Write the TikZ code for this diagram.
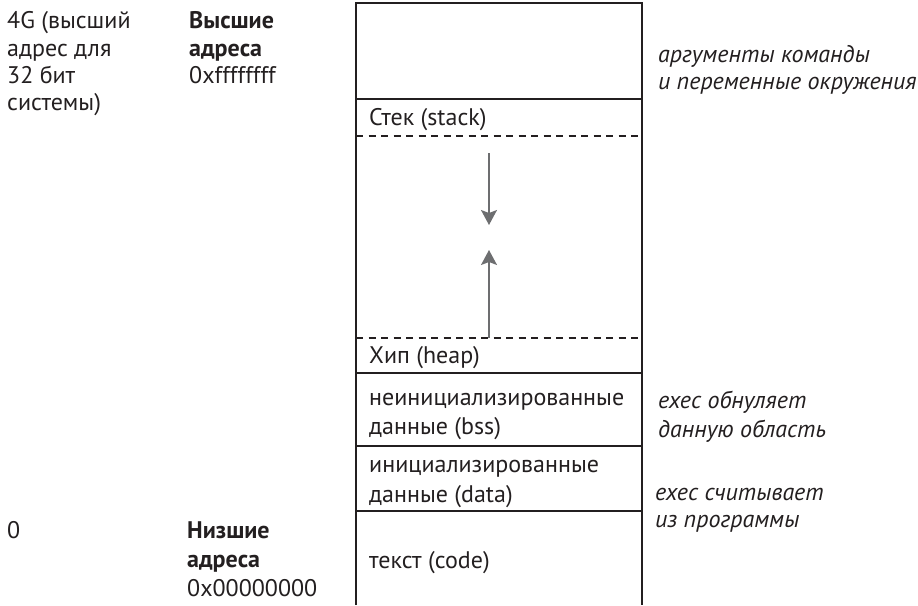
\documentclass[tikz,border=0pt]{standalone}
\usepackage{fontspec}
\setmainfont{PT Sans}
\usetikzlibrary{arrows.meta}
\definecolor{ink}{HTML}{231F20}
\definecolor{arrowgray}{HTML}{6D6E70}
\tikzset{
  lbl/.style={anchor=base west, inner sep=0pt, text=ink, font=\fontsize{24}{28}\selectfont},
  lblb/.style={lbl, font=\fontsize{24}{28}\selectfont\bfseries},
  lbli/.style={lbl, font=\fontsize{24}{28}\selectfont\itshape},
  boxline/.style={draw=ink, line width=1.6pt},
  sepline/.style={draw=ink, line width=1.3pt},
  dashline/.style={draw=ink, line width=1.3pt, dash pattern=on 7pt off 5.5pt},
  growarrow/.style={draw=arrowgray, line width=1.5pt, -{Stealth[length=15pt,width=16pt,inset=3pt]}}
}
\begin{document}
\begin{tikzpicture}[x=1pt,y=-1pt]
\useasboundingbox (0,0) rectangle (918,605);
% box outline
\coordinate (tl) at (356,3);
\coordinate (tr) at (642,3);
\coordinate (bl) at (356,605);
\coordinate (br) at (642,605);
\draw[boxline] (bl) -- (tl) -- (tr) -- (br);
% separators
\coordinate (s1l) at (356,99);  \coordinate (s1r) at (642,99);
\coordinate (d1l) at (356,136); \coordinate (d1r) at (642,136);
\coordinate (d2l) at (356,338); \coordinate (d2r) at (642,338);
\coordinate (s2l) at (356,373); \coordinate (s2r) at (642,373);
\coordinate (s3l) at (356,446); \coordinate (s3r) at (642,446);
\coordinate (s4l) at (356,511); \coordinate (s4r) at (642,511);
\draw[sepline] (s1l) -- (s1r);
\draw[dashline] (d1l) -- (d1r);
\draw[dashline] (d2l) -- (d2r);
\draw[sepline] (s2l) -- (s2r);
\draw[sepline] (s3l) -- (s3r);
\draw[sepline] (s4l) -- (s4r);
% arrows
\coordinate (a1s) at (489,153);
\coordinate (a1e) at (489,225);
\coordinate (a2s) at (489,338);
\coordinate (a2e) at (489,250);
\draw[growarrow] (a1s) -- (a1e);
\draw[growarrow] (a2s) -- (a2e);
% box texts
\node[lbl] (stack) at (369,125) {Стек (stack)};
\node[lbl] (heap) at (369,363) {Хип (heap)};
\node[lbl] (bss1) at (369,405) {неинициализированные};
\node[lbl] (bss2) at (369,434) {данные (bss)};
\node[lbl] (data1) at (369,472) {инициализированные};
\node[lbl] (data2) at (369,502) {данные (data)};
\node[lbl] (code) at (369,568) {текст (code)};
% left texts
\node[lbl] (g1) at (7,28) {4G (высший};
\node[lbl] (g2) at (7,56) {адрес для};
\node[lbl] (g3) at (7,83) {32 бит};
\node[lbl] (g4) at (7,110) {системы)};
\node[lblb] (h1) at (189,28) {Высшие};
\node[lblb] (h2) at (189,56) {адреса};
\node[lbl] (h3) at (189,83) {0xffffffff};
\node[lbl] (z0) at (7,538) {0};
\node[lblb] (l1) at (187,538) {Низшие};
\node[lblb] (l2) at (187,567) {адреса};
\node[lbl] (l3) at (187,596) {0x00000000};
% right italic notes
\node[lbli] (n1) at (658,62) {аргументы команды};
\node[lbli] (n2) at (658,89) {и переменные окружения};
\node[lbli] (n3) at (658,408) {exec обнуляет};
\node[lbli] (n4) at (658,437) {данную область};
\node[lbli] (n5) at (655,500) {exec считывает};
\node[lbli] (n6) at (655,527) {из программы};
\end{tikzpicture}
\end{document}
